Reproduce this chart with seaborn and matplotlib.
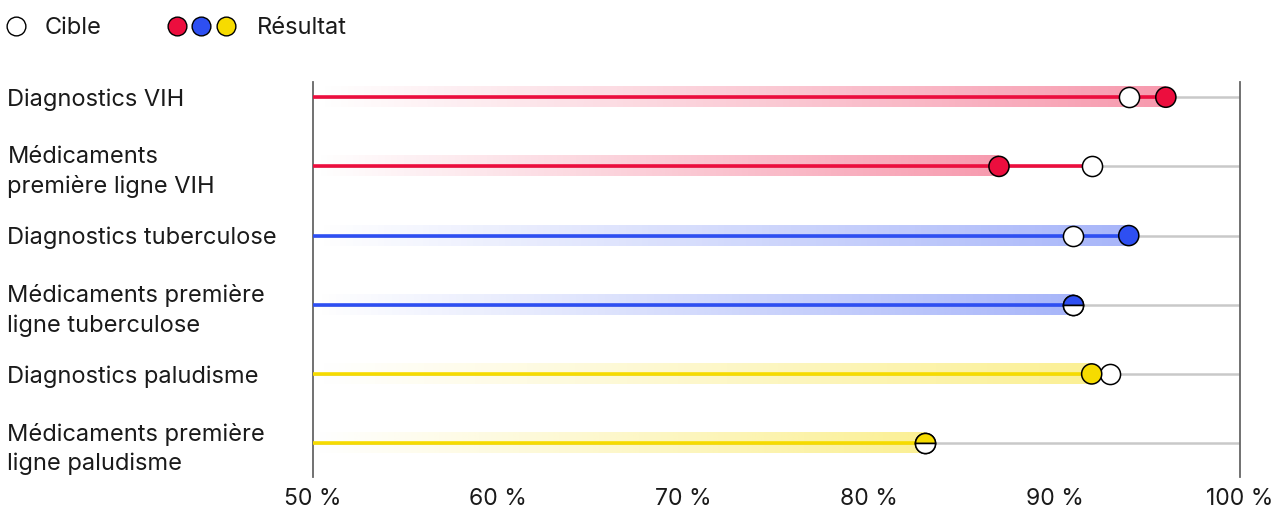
import numpy as np
import pandas as pd
import matplotlib.pyplot as plt
import seaborn as sns
from matplotlib.colors import LinearSegmentedColormap, to_rgb


# Données
indicateurs = [
    "Diagnostics VIH",
    "Médicaments\npremière ligne VIH",
    "Diagnostics tuberculose",
    "Médicaments première\nligne tuberculose",
    "Diagnostics paludisme",
    "Médicaments première\nligne paludisme",
]
maladie  = ["VIH", "VIH", "tuberculose", "tuberculose", "paludisme", "paludisme"]
resultat = [96, 87, 94, 91, 92, 83]
cible    = [94, 92, 91, 91, 93, 83]
x_ticks  = [50, 60, 70, 80, 90, 100]

couleurs = {"VIH": "#EC0E3E", "tuberculose": "#2E4FF2", "paludisme": "#F6DB00"}

df = pd.DataFrame({
    "indicateur": indicateurs,
    "maladie": maladie,
    "resultat": resultat,
    "cible": cible,
})
df["pos"] = np.arange(len(df))

sns.set_style("white")
plt.rcParams["font.family"] = ["Inter", "DejaVu Sans"]
TXT = "#1a1a1a"
FS = 17

fig = plt.figure(figsize=(12.79, 5.11), dpi=100)
ax = fig.add_axes([313 / 1279, 34 / 511, 927 / 1279, 395 / 511])

BAND = 0.145
MS = 14.5

for _, r in df.iterrows():
    c = couleurs[r["maladie"]]
    y = r["pos"]
    # ligne grise de fond
    ax.plot([50, 100], [y, y], color="#c9c9c9", lw=1.8, zorder=1, solid_capstyle="butt")
    # bande en dégradé jusqu'au résultat
    cmap = LinearSegmentedColormap.from_list(
        "g", [(*to_rgb(c), 0.0), (*to_rgb(c), 0.42)])
    grad = np.linspace(0, 1, 256).reshape(1, -1)
    ax.imshow(grad, extent=[50, r["resultat"], y + BAND, y - BAND],
              cmap=cmap, aspect="auto", interpolation="bilinear", zorder=2)
    # ligne fine colorée
    fin = max(r["resultat"], r["cible"])
    ax.plot([50, fin], [y, y], color=c, lw=2.6, zorder=3, solid_capstyle="butt")

# cibles (cercles blancs)
sns.scatterplot(data=df, x="cible", y="pos", color="white", s=MS ** 2,
                edgecolor="black", linewidth=1.1, zorder=4, ax=ax, legend=False)

# résultats
diff = df[df["resultat"] != df["cible"]]
sns.scatterplot(data=diff, x="resultat", y="pos", hue="maladie", palette=couleurs,
                s=MS ** 2, edgecolor="black", linewidth=1.1, zorder=5, ax=ax, legend=False)
for _, r in df[df["resultat"] == df["cible"]].iterrows():
    ax.plot(r["resultat"], r["pos"], marker="o", ms=MS, fillstyle="top",
            markerfacecolor=couleurs[r["maladie"]], markerfacecoloralt="white",
            markeredgecolor="black", markeredgewidth=1.1, zorder=5)

ax.set_xlim(50, 100)
ax.set_ylim(len(df) - 1 + 0.49, -0.22)
ax.set_xticks(x_ticks)
ax.set_xticklabels([f"{t} %" for t in x_ticks], fontsize=FS - 0.5, color=TXT)
ax.set_yticks(df["pos"])
ax.set_yticklabels(df["indicateur"], fontsize=FS, color=TXT, ha="left",
                   linespacing=1.38)
ax.tick_params(axis="y", length=0, pad=220)
ax.tick_params(axis="x", length=0, pad=8)
ax.set_xlabel("")
ax.set_ylabel("")
for s in ["top", "bottom"]:
    ax.spines[s].set_visible(False)
for s in ["left", "right"]:
    ax.spines[s].set_color("#666666")
    ax.spines[s].set_linewidth(1.3)

# légende manuelle
lax = fig.add_axes([0, 0, 1, 1], zorder=10)
lax.set_xlim(0, 1279)
lax.set_ylim(511, 0)
lax.axis("off")
lax.plot(16, 26, marker="o", ms=MS - 1, mfc="white", mec="black", mew=1.0)
lax.text(45, 27.5, "Cible", fontsize=FS, color=TXT, va="center")
for xx, m in zip([177, 201, 226], ["VIH", "tuberculose", "paludisme"]):
    lax.plot(xx, 26, marker="o", ms=MS - 1, mfc=couleurs[m], mec="black", mew=1.0)
lax.text(257, 27.5, "Résultat", fontsize=FS, color=TXT, va="center")

fig.savefig("out.png", dpi=100)
